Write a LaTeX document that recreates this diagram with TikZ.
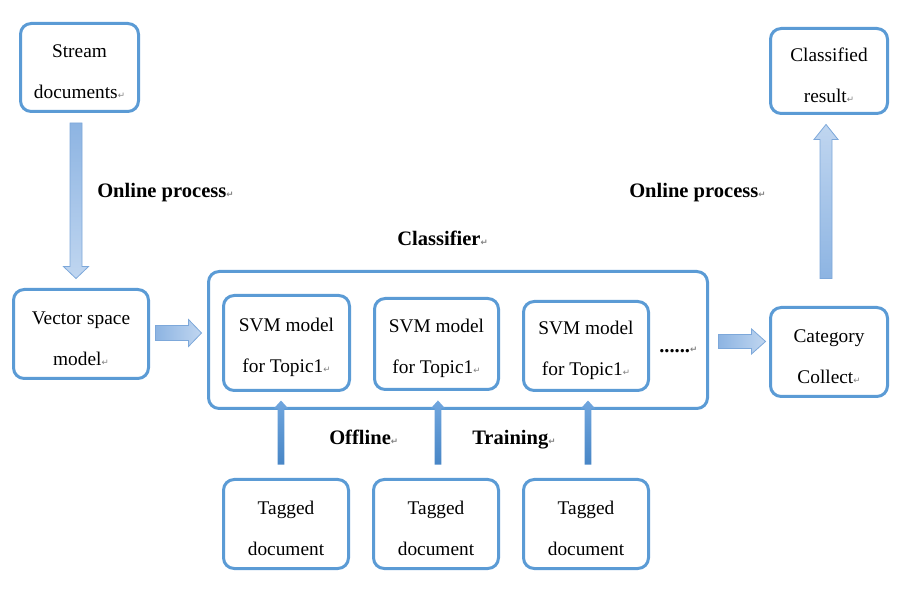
\documentclass[tikz,border=0pt]{standalone}
\usepackage{fontspec}
\setmainfont[Ligatures=NoCommon]{Liberation Serif}
\newfontfamily\markfont{DejaVu Sans}
\usetikzlibrary{calc}

\definecolor{boxblue}{RGB}{91,155,213}
\definecolor{arrowdark}{RGB}{141,180,226}
\definecolor{arrowlight}{RGB}{192,214,240}
\definecolor{arrowedge}{RGB}{125,168,218}
\definecolor{traindark}{RGB}{72,134,198}
\definecolor{trainlight}{RGB}{112,166,222}

% paragraph mark as printed after each text
\newcommand{\pmark}{{\markfont\fontsize{6.5}{6.5}\selectfont\color{gray}\char"21B5}}
% taller first line, pushes box text a little down
\newcommand{\lift}{\rule{0pt}{16pt}}

% block arrow: half shaft, half head, head length
\tikzset{
  fat/.style n args={3}{to path={
    let \p1=(\tikztostart), \p2=(\tikztotarget),
        \n1={veclen(\x2-\x1,\y2-\y1)},
        \n2={(\x2-\x1)/\n1}, \n3={(\y2-\y1)/\n1}
    in ({\x1-(\n3)*#1},{\y1+(\n2)*#1})
    -- ({\x2-(\n2)*#3-(\n3)*#1},{\y2-(\n3)*#3+(\n2)*#1})
    -- ({\x2-(\n2)*#3-(\n3)*#2},{\y2-(\n3)*#3+(\n2)*#2})
    -- (\x2,\y2)
    -- ({\x2-(\n2)*#3+(\n3)*#2},{\y2-(\n3)*#3-(\n2)*#2})
    -- ({\x2-(\n2)*#3+(\n3)*#1},{\y2-(\n3)*#3-(\n2)*#1})
    -- ({\x1+(\n3)*#1},{\y1-(\n2)*#1}) -- cycle
  }},
  box/.style={draw=boxblue, line width=2.25pt, rounded corners=8pt, fill=white,
    align=center, inner sep=0pt, font=\fontsize{14.5}{30.75}\selectfont},
  lbl/.style={anchor=base west, inner sep=0pt, font=\fontsize{15.4}{18}\selectfont\bfseries},
  bigarrow/.style={draw=arrowedge, line width=0.6pt},
  trainarrow/.style={fat={2.6pt}{5.4pt}{6pt}, top color=trainlight, bottom color=traindark}
}

\begin{document}
\begin{tikzpicture}[x=0.75pt, y=-0.75pt]
  \useasboundingbox (0,0) rectangle (907,609);

  % online input side
  \node[box, minimum width=88.5pt, minimum height=66pt] (stream) at (79.5,67.5) {\lift Stream\\documents\pmark};
  \node[box, minimum width=101.25pt, minimum height=66.75pt] (vsm) at (81,334) {\lift Vector space\\model\pmark};

  % classifier
  \node[box, minimum width=374.25pt, minimum height=102.75pt] (clsbox) at (458,340) {};
  \node[box, minimum width=94.5pt, minimum height=71.25pt] (svm1) at (286.5,343) {\lift SVM model\\for Topic1\pmark};
  \node[box, minimum width=93pt, minimum height=68.25pt] (svm2) at (436.5,344) {\lift SVM model\\for Topic1\pmark};
  \node[box, minimum width=93.75pt, minimum height=66.75pt] (svm3) at (586,346) {\lift SVM model\\for Topic1\pmark};
  \node[lbl] (dots) at (659,353) {......\pmark};

  % output side
  \node[box, minimum width=87.75pt, minimum height=66.75pt] (category) at (829,352) {\lift Category\\Collect\pmark};
  \node[box, minimum width=87.75pt, minimum height=63.75pt] (result) at (829,71) {\lift Classified\\result\pmark};

  % training documents
  \node[box, minimum width=93.75pt, minimum height=66.75pt] (tag1) at (286,524) {\lift Tagged\\document};
  \node[box, minimum width=93.75pt, minimum height=66.75pt] (tag2) at (436,524) {\lift Tagged\\document};
  \node[box, minimum width=93.75pt, minimum height=66.75pt] (tag3) at (586,524) {\lift Tagged\\document};

  % labels
  \node[lbl] (online1) at (97,198) {Online process\pmark};
  \node[lbl] (online2) at (629,198) {Online process\pmark};
  \node[lbl] (clslabel) at (397,246) {Classifier\pmark};
  \node[lbl] (offline) at (329,445) {Offline\pmark};
  \node[lbl] (training) at (472,445) {Training\pmark};

  % block arrows
  \path[bigarrow, fat={4.5pt}{9.4pt}{9pt}, top color=arrowdark, bottom color=arrowlight]
    ([xshift=-2.6pt, yshift=-7.5pt]stream.south) to ([xshift=-3.75pt, yshift=7.1pt]vsm.north);
  \path[bigarrow, fat={5.6pt}{10.1pt}{9.75pt}, left color=arrowdark, right color=arrowlight]
    ([xshift=4.1pt, yshift=0.75pt]vsm.east) to ([xshift=-4.1pt, yshift=5.25pt]clsbox.west);
  \path[bigarrow, fat={5.25pt}{9.4pt}{10.5pt}, left color=arrowdark, right color=arrowlight]
    ([xshift=7.1pt, yshift=-1.1pt]clsbox.east) to ([xshift=-2.6pt, yshift=7.9pt]category.west);
  \path[bigarrow, fat={4.5pt}{9pt}{11.25pt}, bottom color=arrowdark, top color=arrowlight]
    ([xshift=-2.25pt, yshift=20.6pt]category.north) to ([xshift=-2.25pt, yshift=-7.1pt]result.south);

  % training arrows
  \path[trainarrow] ([xshift=-3.75pt, yshift=10.1pt]tag1.north) to ([xshift=-4.1pt, yshift=-6.4pt]svm1.south);
  \path[trainarrow] ([xshift=1.5pt, yshift=10.1pt]tag2.north) to ([xshift=1.1pt, yshift=-7.1pt]svm2.south);
  \path[trainarrow] ([xshift=1.5pt, yshift=10.1pt]tag3.north) to ([xshift=1.5pt, yshift=-6.4pt]svm3.south);
\end{tikzpicture}
\end{document}
